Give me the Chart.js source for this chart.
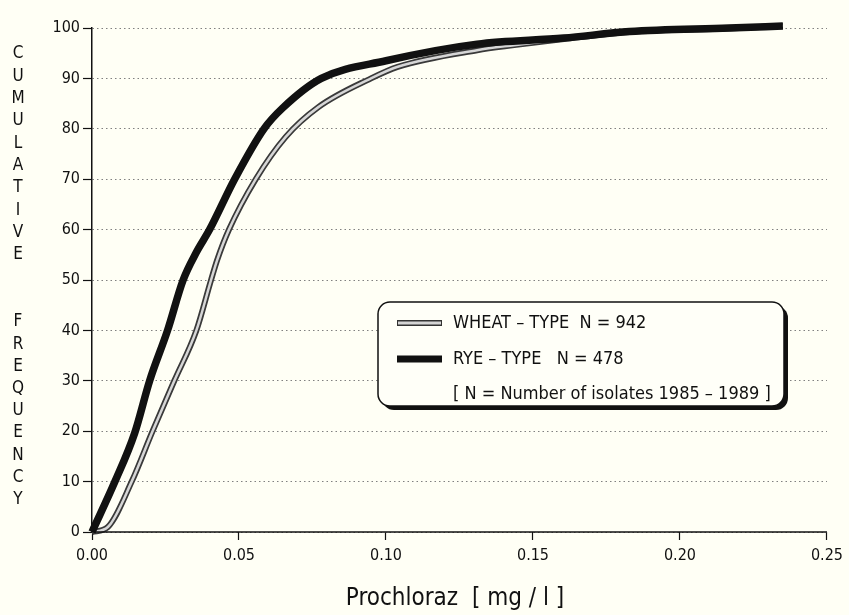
<!DOCTYPE html>
<html>
<head>
<meta charset="utf-8">
<script src="https://cdn.jsdelivr.net/npm/chart.js@4.4.1/dist/chart.umd.min.js"></script>
<style>
  html, body { margin: 0; padding: 0; background: #fffff5; }
  #wrap { position: relative; width: 849px; height: 615px; }
</style>
</head>
<body>
<div id="wrap"><canvas id="cumChart"></canvas></div>
<script>
// --- data ---
const ryeConc   = [0, 0.0078, 0.0145, 0.0196, 0.0257, 0.031, 0.0355, 0.040, 0.0485, 0.0585, 0.0648, 0.078, 0.100, 0.131, 0.1605, 0.1828, 0.2166, 0.235];
const ryeFreq   = [0, 10, 19.6, 30, 40, 50, 55.5, 60, 70, 80, 84.1, 90, 93.5, 96.8, 98, 99.3, 100, 100.4];
const wheatConc = [0, 0.0054, 0.0135, 0.0206, 0.028, 0.0355, 0.0405, 0.0426, 0.0466, 0.0557, 0.0659, 0.077, 0.0949, 0.104, 0.131, 0.1436, 0.1605, 0.1828, 0.2166, 0.235];
const wheatFreq = [0, 1, 10, 20, 30, 40, 50, 54, 60, 70, 78.4, 84.3, 90, 92.3, 95.6, 96.6, 97.8, 99.2, 99.9, 100.4];
const xTickValues = [0, 0.05, 0.10, 0.15, 0.20, 0.25];
const seriesLabels = ['WHEAT – TYPE  N = 942', 'RYE – TYPE   N = 478'];
const noteLabel = '[ N = Number of isolates 1985 – 1989 ]';
const yTitleWords = ['CUMULATIVE', 'FREQUENCY'];
const xTitle = 'Prochloraz  [ mg / l ]';

const FONT = "'Liberation Sans Narrow', 'DejaVu Sans Condensed', 'Arial Narrow', sans-serif";

function toPoints(xs, ys) {
    return xs.map((x, i) => ({ x: x, y: ys[i] }));
}

// extra drawing: axis line, titles and the framed legend
const decorPlugin = {
    id: 'decor',
    afterDraw(chart) {
        const c = chart.ctx;
        const xs = chart.scales.x;
        const ys = chart.scales.y;
        c.save();

        // x axis line
        c.strokeStyle = '#111';
        c.lineWidth = 1.5;
        c.beginPath();
        c.moveTo(xs.getPixelForValue(0), ys.getPixelForValue(0));
        c.lineTo(xs.getPixelForValue(0.25), ys.getPixelForValue(0));
        c.stroke();

        // stacked y title
        c.fillStyle = '#111';
        c.font = '17px ' + FONT;
        c.textAlign = 'center';
        c.textBaseline = 'middle';
        let ty = 54;
        yTitleWords[0].split('').forEach(ch => { c.fillText(ch, 18, ty); ty += 22.3; });
        ty = 322;
        yTitleWords[1].split('').forEach(ch => { c.fillText(ch, 18, ty); ty += 22.2; });

        // x title
        c.font = '24px ' + FONT;
        c.fillText(xTitle, 455, 599);

        // legend box with drop shadow
        const bx = 378, by = 302, bw = 406, bh = 104, r = 12;
        c.fillStyle = '#111';
        c.beginPath();
        c.roundRect(bx + 4, by + 4, bw, bh, r);
        c.fill();
        c.fillStyle = '#fffff8';
        c.strokeStyle = '#111';
        c.lineWidth = 1.5;
        c.beginPath();
        c.roundRect(bx, by, bw, bh, r);
        c.fill();
        c.stroke();

        const rows = [323, 359, 394];
        // wheat sample
        c.lineCap = 'butt';
        c.strokeStyle = '#333';
        c.lineWidth = 6;
        c.beginPath(); c.moveTo(397, rows[0]); c.lineTo(442, rows[0]); c.stroke();
        c.strokeStyle = '#d4d4d4';
        c.lineWidth = 3;
        c.beginPath(); c.moveTo(398, rows[0]); c.lineTo(441, rows[0]); c.stroke();
        // rye sample
        c.strokeStyle = '#111';
        c.lineWidth = 7;
        c.beginPath(); c.moveTo(397, rows[1]); c.lineTo(442, rows[1]); c.stroke();

        c.fillStyle = '#111';
        c.font = '18px ' + FONT;
        c.textAlign = 'left';
        c.fillText(seriesLabels[0], 453, rows[0]);
        c.fillText(seriesLabels[1], 453, rows[1]);
        c.fillText(noteLabel, 453, rows[2]);
        c.restore();
    }
};

const ctx = document.getElementById('cumChart');

new Chart(ctx, {
    type: 'scatter',
    data: {
        datasets: [
            {
                label: seriesLabels[1],
                data: toPoints(ryeConc, ryeFreq),
                showLine: true,
                borderColor: '#111',
                borderWidth: 7.5,
                pointRadius: 0,
                cubicInterpolationMode: 'monotone',
                clip: false,
                order: 1
            },
            {
                // light core of the wheat line
                label: 'wheat-core',
                data: toPoints(wheatConc, wheatFreq),
                showLine: true,
                borderColor: '#d6d6d6',
                borderWidth: 2.5,
                pointRadius: 0,
                cubicInterpolationMode: 'monotone',
                clip: false,
                order: 2
            },
            {
                label: seriesLabels[0],
                data: toPoints(wheatConc, wheatFreq),
                showLine: true,
                borderColor: '#3a3a3a',
                borderWidth: 6,
                pointRadius: 0,
                cubicInterpolationMode: 'monotone',
                clip: false,
                order: 3
            }
        ]
    },
    options: {
        responsive: true,
        maintainAspectRatio: false,
        animation: false,
        layout: { padding: { left: 0, right: 17, top: 28, bottom: 0 } },
        plugins: {
            legend: { display: false },
            tooltip: { enabled: false }
        },
        scales: {
            x: {
                type: 'linear',
                min: 0,
                max: 0.25,
                afterBuildTicks: (scale) => {
                    scale.ticks = xTickValues.map(v => ({ value: v }));
                },
                afterFit: (scale) => { scale.height = 83; },
                grid: {
                    drawOnChartArea: false,
                    drawTicks: true,
                    tickLength: 8,
                    tickColor: '#111',
                    tickWidth: 1.2
                },
                border: { display: false },
                ticks: {
                    padding: 6,
                    color: '#111',
                    font: { family: FONT, size: 16 },
                    callback: (v) => Number(v).toFixed(2)
                }
            },
            y: {
                min: 0,
                max: 100,
                afterFit: (scale) => { scale.width = 92; },
                ticks: {
                    stepSize: 10,
                    padding: 3,
                    color: '#111',
                    font: { family: FONT, size: 16 }
                },
                grid: {
                    color: '#808080',
                    lineWidth: 1,
                    tickLength: 9,
                    tickColor: '#111',
                    tickWidth: 1.2,
                    tickBorderDash: []
                },
                border: { display: true, color: '#111', width: 1.5, dash: [1.5, 3] }
            }
        }
    },
    plugins: [decorPlugin]
});
</script>
</body>
</html>
